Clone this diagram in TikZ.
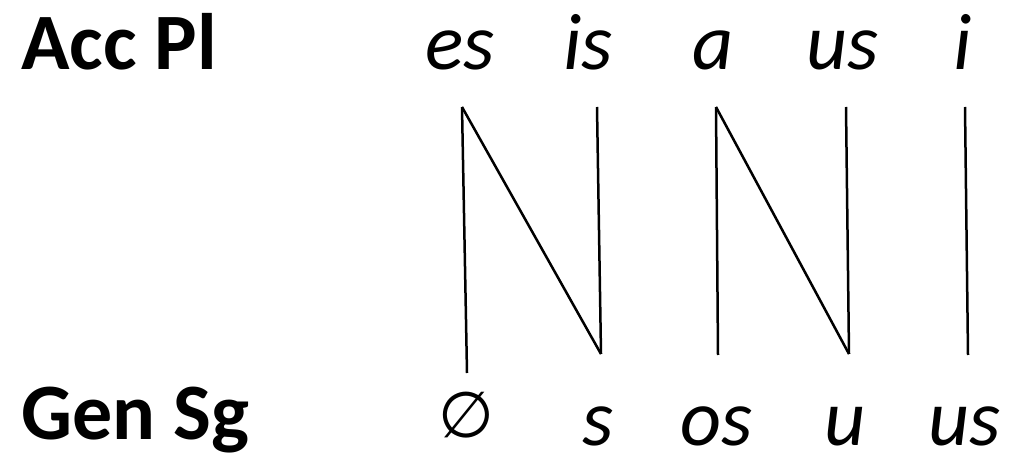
\documentclass[tikz,border=0pt]{standalone}
\usepackage{fontspec}
\setmainfont{Carlito}
\newfontfamily\symfont{DejaVu Sans}
\begin{document}
\begin{tikzpicture}[x=1pt,y=-1pt,
  lbl/.style={font=\fontsize{80}{82}\selectfont\bfseries, anchor=base west, inner sep=0pt},
  suf/.style={font=\fontsize{80}{82}\selectfont\itshape, anchor=base, inner sep=0pt},
  bot/.style={suf, text depth=0pt},
  link/.style={line width=2.5pt, black}]
\useasboundingbox (0,0) rectangle (1009,457);
\node[lbl] (acc) at (21,70) {Acc Pl};
\node[lbl, text depth=0pt] (gen) at (21,439) {Gen Sg};
\node[suf] (t1) at (460,70) {es};
\node[suf] (t2) at (588,70) {is};
\node[suf] (t3) at (713,70) {a};
\node[suf] (t4) at (843,70) {us};
\node[suf] (t5) at (963,70) {i};
\node[inner sep=0pt, font=\fontsize{64}{66}\selectfont\symfont] (b1) at (466,415) {∅};
\node[bot] (b2) at (598,445) {s};
\node[bot] (b3) at (717,445) {os};
\node[bot] (b4) at (845,445) {u};
\node[bot] (b5) at (965,445) {us};
\coordinate (p1) at (462,107);
\coordinate (p2) at (597,107);
\coordinate (p3) at (716,107);
\coordinate (p4) at (846,107);
\coordinate (p5) at (965,107);
\coordinate (q1) at (467,373);
\coordinate (q2) at (601,354);
\coordinate (q3) at (718,355);
\coordinate (q4) at (849,354);
\coordinate (q5) at (968,355);
\draw[link] (p1) -- (q1);
\draw[link] (p1) -- (q2);
\draw[link] (p2) -- (q2);
\draw[link] (p3) -- (q3);
\draw[link] (p3) -- (q4);
\draw[link] (p4) -- (q4);
\draw[link] (p5) -- (q5);
\end{tikzpicture}
\end{document}
